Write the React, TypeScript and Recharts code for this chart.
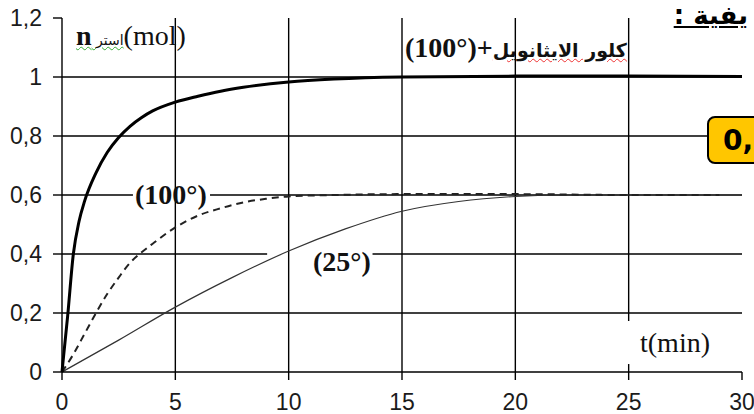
import { LineChart, Line, XAxis, YAxis, ReferenceLine } from 'recharts';

// time (min) / amount (mol)
const boldT = [0, 0.25, 0.5, 0.75, 1, 1.5, 2, 2.5, 3, 3.5, 4, 5, 6, 7, 8, 10, 12, 15, 20, 25, 30];
const boldN = [0, 0.19, 0.4, 0.51, 0.58, 0.675, 0.745, 0.795, 0.833, 0.862, 0.885, 0.915, 0.935, 0.952, 0.965, 0.983, 0.993, 1.0, 1.003, 1.003, 1.002];

const dashT = [0, 0.5, 1, 1.5, 2, 2.5, 3, 3.5, 4, 5, 6, 7, 8, 9, 10, 12, 15, 20, 25, 29];
const dashN = [0, 0.06, 0.13, 0.2, 0.265, 0.32, 0.37, 0.405, 0.435, 0.49, 0.53, 0.555, 0.575, 0.587, 0.595, 0.6, 0.603, 0.603, 0.6, 0.6];

const thinT = [0, 2.5, 5, 7.5, 10, 12.5, 15, 17.5, 20, 22.5, 25, 30];
const thinN = [0, 0.108, 0.22, 0.32, 0.41, 0.485, 0.545, 0.578, 0.595, 0.6, 0.6, 0.6];

const xTicks = [0, 5, 10, 15, 20, 25, 30];
const yTicks = [0, 0.2, 0.4, 0.6, 0.8, 1, 1.2];
const vGrid = [5, 10, 15, 20];
const hGrid = [0.2, 0.8, 1];

const boldData = boldT.map((t, i) => ({ t, n: boldN[i] }));
const dashData = dashT.map((t, i) => ({ t, n: dashN[i] }));
const thinData = thinT.map((t, i) => ({ t, n: thinN[i] }));

const grid = '#000';
const gw = 1.4;
const serif = '"Liberation Serif", "Times New Roman", serif';
const arabic = '"DejaVu Sans", sans-serif';

const fmt = (v: number) => String(v).replace('.', ',');

const YTick = (props: any) => {
  const { x, y, payload } = props;
  return (
    <text x={x} y={y} dy="0.36em" textAnchor="end" fontSize={23} fill="#1b1b1b"
      fontFamily='"Liberation Sans", Arial, sans-serif'>
      {fmt(payload.value)}
    </text>
  );
};

const XTick = (props: any) => {
  const { x, y, payload } = props;
  return (
    <text x={x} y={y} dy="0.71em" textAnchor="middle" fontSize={23} fill="#1b1b1b"
      fontFamily='"Liberation Sans", Arial, sans-serif'>
      {payload.value}
    </text>
  );
};

const lbl = (left: number, top: number, extra?: any): any => ({
  position: 'absolute', left, top, fontFamily: serif, fontSize: 28, lineHeight: '28px',
  whiteSpace: 'nowrap', color: '#111', ...extra,
});

export default function App() {
  return (
    <div style={{ position: 'fixed', left: 0, top: 0, width: 754, height: 414, overflow: 'hidden', background: '#fff' }}>
      <LineChart width={754} height={414} margin={{ top: 18, right: 12, bottom: 0, left: 0 }}>
        <XAxis type="number" dataKey="t" domain={[0, 30]} ticks={xTicks} height={42}
          stroke={grid} strokeWidth={gw} tickSize={8} tickMargin={14} tick={<XTick />} />
        <YAxis type="number" domain={[0, 1.2]} ticks={yTicks} width={62}
          stroke={grid} strokeWidth={gw} tickSize={9} tickMargin={11} tick={<YTick />} />
        {vGrid.map((v) => (
          <ReferenceLine key={'v' + v} x={v} stroke={grid} strokeWidth={gw} />
        ))}
        <ReferenceLine segment={[{ x: 25, y: 0 }, { x: 25, y: 0.027 }]} stroke={grid} strokeWidth={gw} />
        <ReferenceLine segment={[{ x: 25, y: 0.173 }, { x: 25, y: 1.2 }]} stroke={grid} strokeWidth={gw} />
        {hGrid.map((v) => (
          <ReferenceLine key={'h' + v} y={v} stroke={grid} strokeWidth={gw} />
        ))}
        <ReferenceLine segment={[{ x: 0, y: 0.6 }, { x: 3.13, y: 0.6 }]} stroke={grid} strokeWidth={gw} />
        <ReferenceLine segment={[{ x: 6.53, y: 0.6 }, { x: 30, y: 0.6 }]} stroke={grid} strokeWidth={gw} />
        <ReferenceLine segment={[{ x: 0, y: 0.4 }, { x: 9.05, y: 0.4 }]} stroke={grid} strokeWidth={gw} />
        <ReferenceLine segment={[{ x: 13.7, y: 0.4 }, { x: 30, y: 0.4 }]} stroke={grid} strokeWidth={gw} />
        <Line data={thinData} dataKey="n" type="monotone" stroke="#333" strokeWidth={1.2} dot={false} isAnimationActive={false} />
        <Line data={dashData} dataKey="n" type="monotone" stroke="#222" strokeWidth={2} strokeDasharray="7 5" dot={false} isAnimationActive={false} />
        <Line data={boldData} dataKey="n" type="monotone" stroke="#000" strokeWidth={3} dot={false} isAnimationActive={false} />
      </LineChart>

      <div style={lbl(76, 22)}>
        <span style={{ textDecoration: 'underline wavy #3a3', textDecorationThickness: 1 }}>
          <b>n</b>
          <span style={{ fontFamily: arabic, fontSize: 14 }}> استر</span>
        </span>
        <span>(mol)</span>
      </div>

      <div style={lbl(405, 34, { fontWeight: 'bold' })}>
        <span>(100°)+</span>
        <span style={{ fontFamily: arabic, fontSize: 19, textDecoration: 'underline wavy #e33', textDecorationThickness: 1 }}>كلور الايثانويل</span>
      </div>

      <div style={lbl(135, 181, { fontWeight: 'bold' })}>(100°)</div>
      <div style={lbl(313, 248, { fontWeight: 'bold' })}>(25°)</div>
      <div style={lbl(640, 329)}>t(min)</div>

      <div style={{ position: 'absolute', right: 6, top: 0, fontFamily: arabic, fontSize: 26, fontWeight: 'bold', whiteSpace: 'nowrap', textDecoration: 'underline', color: '#000', direction: 'rtl' }}>
        يفية :
      </div>

      <div style={{ position: 'absolute', left: 707, top: 116, width: 80, height: 44, background: '#FFC600', border: '2.5px solid #000', borderRadius: 8 }}>
        <span style={{ position: 'absolute', left: 14, top: 6, fontFamily: arabic, fontSize: 28, fontWeight: 'bold', color: '#000' }}>0,</span>
      </div>
    </div>
  );
}
